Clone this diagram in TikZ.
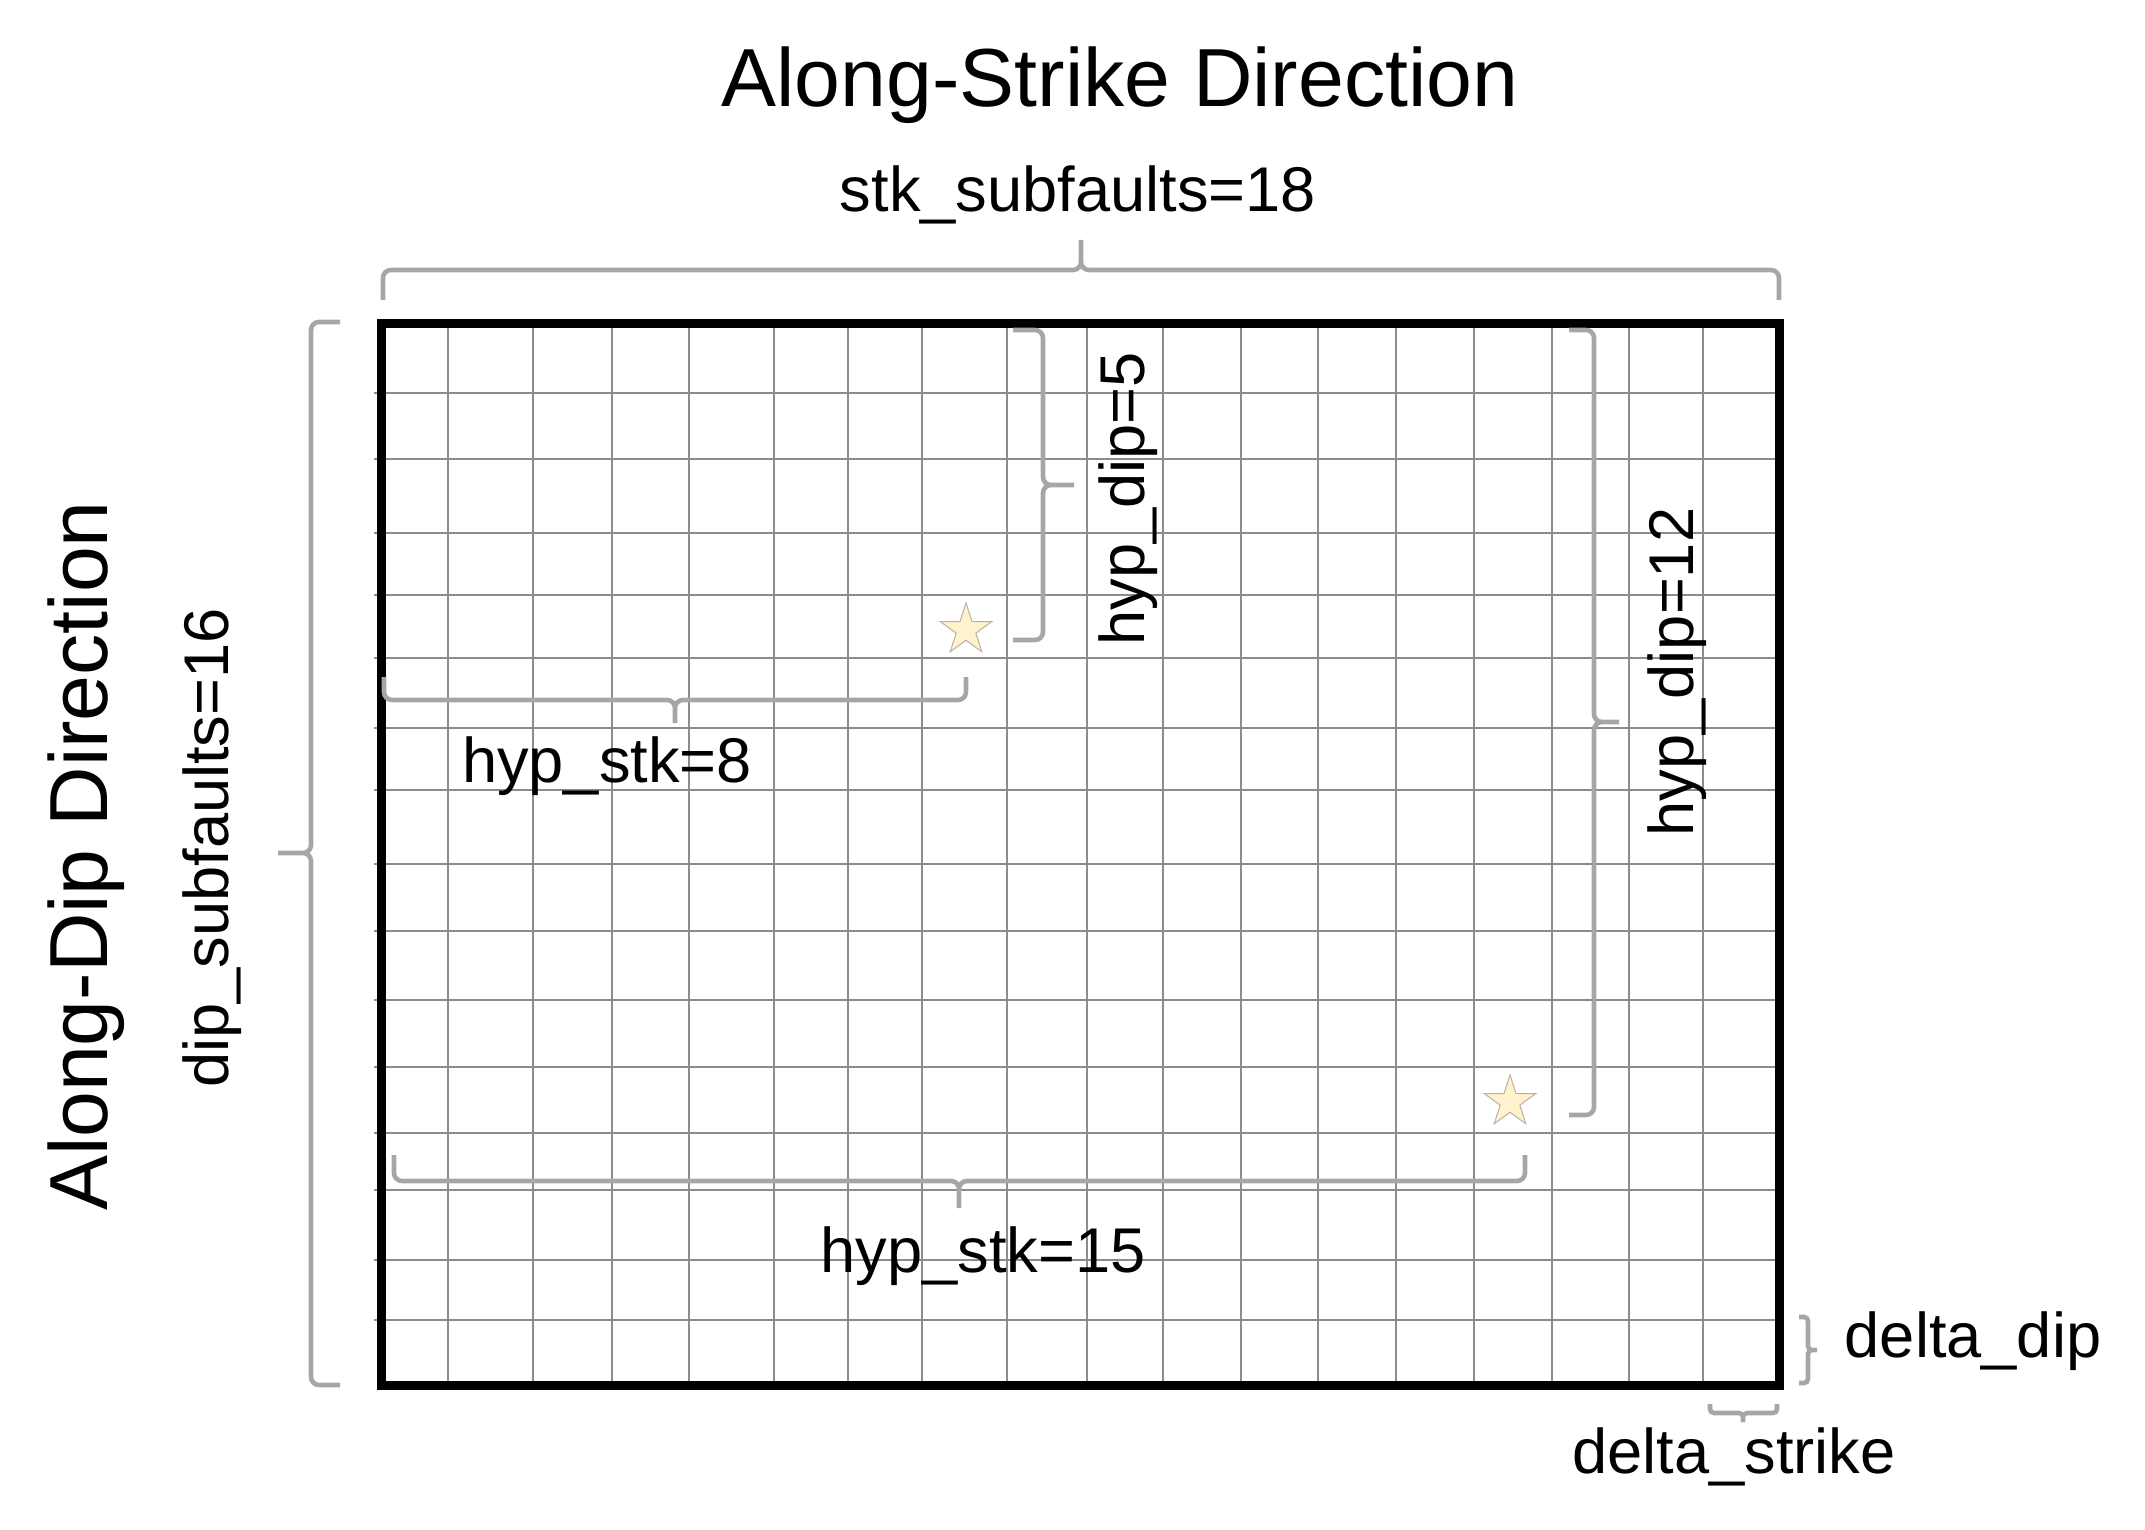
\documentclass[tikz,border=0pt]{standalone}
\usepackage{fontspec}
\setmainfont{Liberation Sans}
\usetikzlibrary{shapes.geometric}

\begin{document}
\begin{tikzpicture}[x=0.25pt,y=-0.25pt,
		gridline/.style={draw={rgb,255:red,140;green,140;blue,140},line width=0.55pt},
		bracket/.style={draw={rgb,255:red,166;green,166;blue,166},line width=1.15pt,rounded corners=2pt},
		biglabel/.style={font=\fontsize{20.6}{24}\selectfont,inner sep=0pt},
		smalllabel/.style={font=\fontsize{15.8}{19}\selectfont,inner sep=0pt},
		hypo/.style={star,star points=5,star point ratio=2.618,minimum size=13.5pt,inner sep=0pt,
			fill={rgb,255:red,255;green,242;blue,204},draw={rgb,255:red,185;green,178;blue,160},line width=0.25pt}]
		\useasboundingbox (0,0) rectangle (2145,1530);
		
		% subfault grid
		\foreach \x in {448,533,612,689,774,848,922,1007,1087,1163,1241,1318,1396,1474,1552,1629,1703}
			\draw[gridline] (\x,324) -- (\x,1385);
		\foreach \y in {393,459,533,595,658,728,790,864,931,1000,1067,1133,1190,1260,1320}
			\draw[gridline] (374,\y) -- (1779,\y);
		\draw[line width=2.25pt] (381,324) rectangle (1779,1385);  % fault plane
		
		% hypocentres
		\node[hypo] (hypo1) at (966,630) {};
		\node[hypo] (hypo2) at (1510,1102) {};
		
		% brackets
		\draw[bracket] (383,300) -- (383,270) -- (1081,270) -- (1081,240)
			(1081,240) -- (1081,270) -- (1779,270) -- (1779,300);  % stk_subfaults
		\draw[bracket] (340,322) -- (311,322) -- (311,853) -- (278,853)
			(278,853) -- (311,853) -- (311,1385) -- (340,1385);  % dip_subfaults
		\draw[bracket] (1013,330) -- (1043,330) -- (1043,485) -- (1074,485)
			(1074,485) -- (1043,485) -- (1043,640) -- (1013,640);  % hyp_dip=5
		\draw[bracket] (1569,330) -- (1594,330) -- (1594,722) -- (1619,722)
			(1619,722) -- (1594,722) -- (1594,1115) -- (1569,1115);  % hyp_dip=12
		\draw[bracket] (384,677) -- (384,700) -- (675,700) -- (675,723)
			(675,723) -- (675,700) -- (966,700) -- (966,677);  % hyp_stk=8
		\draw[bracket] (394,1155) -- (394,1181) -- (959,1181) -- (959,1208)
			(959,1208) -- (959,1181) -- (1525,1181) -- (1525,1155);  % hyp_stk=15
		\draw[bracket,rounded corners=1pt] (1799,1317) -- (1808,1317) -- (1808,1350) -- (1817,1350)
			(1817,1350) -- (1808,1350) -- (1808,1383) -- (1799,1383);  % delta_dip
		\draw[bracket,rounded corners=1pt] (1710,1404) -- (1710,1413) -- (1743,1413) -- (1743,1422)
			(1743,1422) -- (1743,1413) -- (1777,1413) -- (1777,1404);  % delta_strike
		
		% labels
		\node[biglabel,anchor=base] (stktitle) at (1120,107) {Along-Strike Direction};
		\node[biglabel,anchor=base,rotate=90] (diptitle) at (108,856) {Along-Dip Direction};
		\node[smalllabel,anchor=base] (stkn) at (1078,212) {stk\_subfaults=18};
		\node[smalllabel,anchor=base,rotate=90] (dipn) at (228,848) {dip\_subfaults=16};
		\node[smalllabel,anchor=base,rotate=90] (hypdip1) at (1144,499) {hyp\_dip=5};
		\node[smalllabel,anchor=base,rotate=90] (hypdip2) at (1693,672) {hyp\_dip=12};
		\node[smalllabel,anchor=base] (hypstk1) at (607,782) {hyp\_stk=8};
		\node[smalllabel,anchor=base] (hypstk2) at (983,1272) {hyp\_stk=15};
		\node[smalllabel,anchor=base west] (ddip) at (1844,1357) {delta\_dip};
		\node[smalllabel,anchor=base] (dstk) at (1734,1473) {delta\_strike};
		
	\end{tikzpicture}
\end{document}
